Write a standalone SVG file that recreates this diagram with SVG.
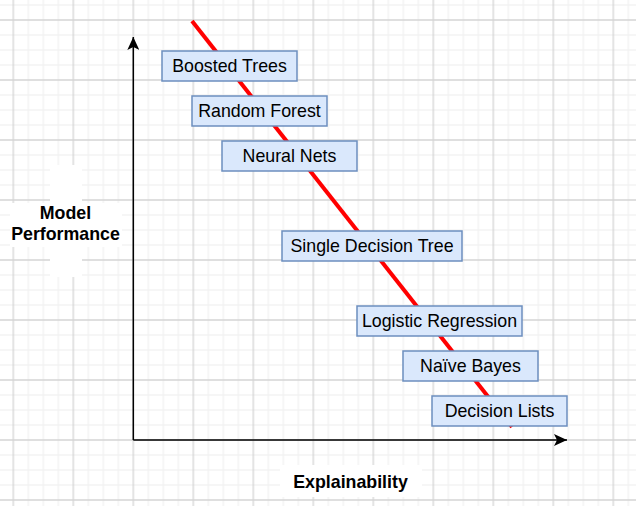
<svg xmlns="http://www.w3.org/2000/svg" width="636" height="506" viewBox="0 0 636 506">
  <style>
    .box { fill: #dae8fc; stroke: #6c8ebf; stroke-width: 1.5; }
    .lbl { font-family: "Liberation Sans", Arial, Helvetica, sans-serif; font-size: 17.8px; fill: #000; text-anchor: middle; }
    .axlbl { font-family: "Liberation Sans", Arial, Helvetica, sans-serif; font-size: 17.8px; font-weight: bold; fill: #000; text-anchor: middle; }
    .axis { stroke: #000; stroke-width: 1.5; fill: none; }
    .trend { stroke: #ff0000; stroke-width: 4; fill: none; }
  </style>
  <defs>
    <pattern id="grid" x="-16.67" y="-10" width="60" height="60" patternUnits="userSpaceOnUse">
      <path d="M0 0V60M15 0V60M45 0V60M60 0V60M0 0H60M0 15H60M0 45H60M0 60H60" stroke="#f3f3f3" stroke-width="1.5" fill="none"/>
      <path d="M30 0V60M0 30H60" stroke="#d5d5d5" stroke-width="1.3" fill="none"/>
    </pattern>
    <marker id="arrow" viewBox="0 0 14 12" refX="13" refY="6" markerWidth="14" markerHeight="12" markerUnits="userSpaceOnUse" orient="auto">
      <path d="M0 0L13 6L0 12L3 6Z" fill="#000"/>
    </marker>
  </defs>

  <rect x="0" y="0" width="636" height="506" fill="#ffffff"/>
  <rect x="0" y="0" width="636" height="506" fill="url(#grid)"/>

  <!-- label backgrounds -->
  <rect x="50" y="165" width="32" height="112" fill="#ffffff"/>
  <rect x="10" y="203" width="112" height="44" fill="#ffffff"/>
  <rect x="280" y="465" width="142" height="32" fill="#ffffff"/>

  <g id="connectors">
    <line class="trend" x1="192" y1="21" x2="512" y2="427"/>
    <line class="axis" x1="133.3" y1="440" x2="133.3" y2="37" marker-end="url(#arrow)"/>
    <line class="axis" x1="133.3" y1="440" x2="567" y2="440" marker-end="url(#arrow)"/>
  </g>

  <g id="label-model-performance">
    <text class="axlbl" x="65.5" y="218.5">Model</text>
    <text class="axlbl" x="65.5" y="239.5">Performance</text>
  </g>
  <g id="label-explainability">
    <text class="axlbl" x="350.5" y="488">Explainability</text>
  </g>

  <g id="boosted-trees">
    <rect class="box" x="162" y="51" width="135" height="30"/>
    <text class="lbl" x="229.5" y="72.2">Boosted Trees</text>
  </g>
  <g id="random-forest">
    <rect class="box" x="192" y="96" width="135" height="30"/>
    <text class="lbl" x="259.5" y="117.2">Random Forest</text>
  </g>
  <g id="neural-nets">
    <rect class="box" x="222" y="141" width="135" height="30"/>
    <text class="lbl" x="289.5" y="162.2">Neural Nets</text>
  </g>
  <g id="single-decision-tree">
    <rect class="box" x="282" y="231" width="180" height="30"/>
    <text class="lbl" x="372" y="252.2">Single Decision Tree</text>
  </g>
  <g id="logistic-regression">
    <rect class="box" x="357" y="306" width="165" height="30"/>
    <text class="lbl" x="439.5" y="327.2">Logistic Regression</text>
  </g>
  <g id="naive-bayes">
    <rect class="box" x="403" y="351" width="135" height="30"/>
    <text class="lbl" x="470.5" y="372.2">Naïve Bayes</text>
  </g>
  <g id="decision-lists">
    <rect class="box" x="432" y="396" width="135" height="30"/>
    <text class="lbl" x="499.5" y="417.2">Decision Lists</text>
  </g>
</svg>
